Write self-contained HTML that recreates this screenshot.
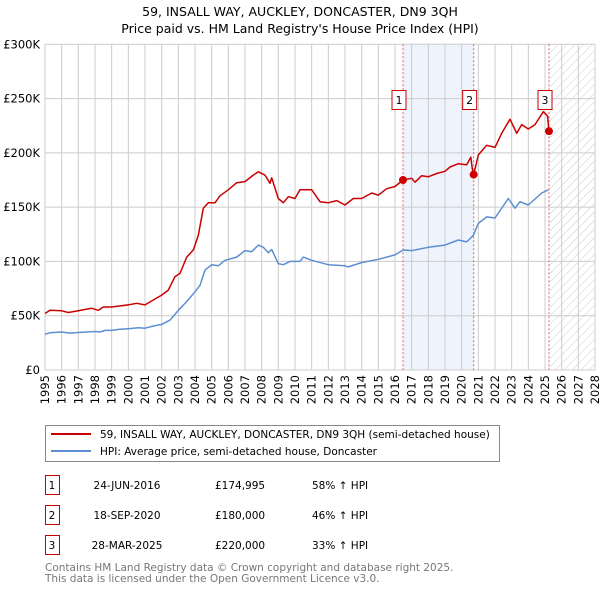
<!DOCTYPE html>
<html><head><meta charset="utf-8"><style>
body{margin:0;background:#fff;font-family:"DejaVu Sans","Liberation Sans",sans-serif;}
svg text{font-family:"DejaVu Sans","Liberation Sans",sans-serif;}
</style></head><body>
<svg id="c" width="600" height="590" viewBox="0 0 600 590" xmlns="http://www.w3.org/2000/svg">
<defs><pattern id="hatch" width="6" height="6" patternUnits="userSpaceOnUse" patternTransform="rotate(45)"><line x1="0" y1="0" x2="0" y2="6" stroke="#ccc" stroke-width="1"/></pattern></defs>
<text x="300" y="16" text-anchor="middle" font-size="12.5">59, INSALL WAY, AUCKLEY, DONCASTER, DN9 3QH</text>
<text x="300" y="33" text-anchor="middle" font-size="12.5">Price paid vs. HM Land Registry's House Price Index (HPI)</text>
<g id="plot"></g>
<rect x="45.5" y="425.5" width="454" height="36" fill="#fff" stroke="#888"/>
<line x1="51" y1="434" x2="91" y2="434" stroke="#cc0000" stroke-width="2"/>
<text x="100" y="438" font-size="10.5">59, INSALL WAY, AUCKLEY, DONCASTER, DN9 3QH (semi-detached house)</text>
<line x1="51" y1="451" x2="91" y2="451" stroke="#5b8fd0" stroke-width="2"/>
<text x="100" y="455" font-size="10.5">HPI: Average price, semi-detached house, Doncaster</text>
<g id="table" font-size="10.5"></g>
<text x="45" y="571" font-size="10.5" fill="#777">Contains HM Land Registry data © Crown copyright and database right 2025.</text>
<text x="45" y="582" font-size="10.5" fill="#777">This data is licensed under the Open Government Licence v3.0.</text>
</svg>
<script>
const hpiYears=[1995,1995.3,1996,1996.5,1997,1998,1998.3,1998.6,1999,1999.5,2000,2000.6,2001,2001.5,2002,2002.5,2003,2003.5,2004,2004.3,2004.6,2005,2005.4,2005.8,2006.5,2007,2007.4,2007.8,2008.1,2008.4,2008.6,2009,2009.3,2009.7,2010.3,2010.5,2011,2012,2013,2013.2,2014,2015,2016,2016.5,2017,2018,2019,2019.8,2020.3,2020.7,2021,2021.5,2022,2022.8,2023.2,2023.5,2024,2024.8,2025.2];
const hpiValues=[33,34.3,35,34,34.5,35.5,35,36.5,36.5,37.5,38,39,38.5,40.5,42,46,55,63,72,78,92,97,96,101,104,110,109,115,113,108,111,98,97,100,100,104,101,97,96,95,99,102,106,110.5,110,113,115,119.7,118,124,135,141,140,158,149,155,152,163,166];
const priceYears=[1995,1995.3,1996,1996.4,1997,1997.8,1998.2,1998.5,1999,1999.4,2000,2000.5,2001,2001.5,2002,2002.4,2002.8,2003.1,2003.5,2003.9,2004.2,2004.5,2004.8,2005.2,2005.5,2006,2006.5,2007,2007.5,2007.8,2008.2,2008.5,2008.6,2009,2009.3,2009.6,2010,2010.3,2011,2011.5,2012,2012.5,2013,2013.5,2014,2014.6,2015,2015.5,2016,2016.48,2017,2017.2,2017.6,2018,2018.5,2019,2019.3,2019.8,2020.3,2020.55,2020.65,2020.72,2021,2021.5,2022,2022.4,2022.9,2023.3,2023.6,2024,2024.4,2024.9,2025.15,2025.24];
const priceValues=[52,55,54.5,53,54.6,56.8,55,58,58,58.9,60,61.4,60,64.5,69,73.6,86,89,104,110.5,124,149,154,154,160.5,166,172.5,173.5,179.5,182.6,179.5,172,177,158,154,159.6,158,166,166,155,154,156,152,158,158,163,161,167,169,175,176.6,173,179,178,181,183,187,190,189,196,184,180,198,207,205,218,231,218,226,222,226,238,234,220];
const saleYears=[2016.48,2020.72,2025.24];
const saleValues=[174.995,180,220];
const saleLabels=["1","2","3"];
const saleDates=["24-JUN-2016","18-SEP-2020","28-MAR-2025"];
const salePrices=["£174,995","£180,000","£220,000"];
const saleDiffs=["58% ↑ HPI","46% ↑ HPI","33% ↑ HPI"];
const yTicks=[0,50,100,150,200,250,300];
const yTickLabels=["£0","£50K","£100K","£150K","£200K","£250K","£300K"];
const xTicks=[];for(let y=1995;y<=2028;y++)xTicks.push(y);

const X0=45,X1=595,Y0=370,Y1=44.3;
const xs=v=>X0+(v-1995)/(2028-1995)*(X1-X0);
const ys=v=>Y0-v/300*(Y0-Y1);
const NS="http://www.w3.org/2000/svg";
const plot=document.getElementById('plot');
function mk(tag,attrs,parent){const e=document.createElementNS(NS,tag);for(const k in attrs)e.setAttribute(k,attrs[k]);(parent||plot).appendChild(e);return e;}

let r=mk('rect',{x:xs(saleYears[0]),y:Y1,width:xs(saleYears[1])-xs(saleYears[0]),height:Y0-Y1,fill:'#eef3fc'});


r=mk('rect',{x:xs(saleYears[2]),y:Y1,width:X1-xs(saleYears[2]),height:Y0-Y1,fill:'url(#hatch)'});



xTicks.forEach(t=>{
  const l=mk('line',{x1:xs(t),x2:xs(t),y1:Y1,y2:Y0,stroke:'#ccc','stroke-width':1});
  
  
  const tx=mk('text',{x:0,y:0,transform:`translate(${xs(t)+4},375) rotate(-90)`,'text-anchor':'end','font-size':'11.5'});
  
  
  tx.textContent=t;
});
yTicks.forEach((t,i)=>{
  const l=mk('line',{x1:X0,x2:X1,y1:ys(t),y2:ys(t),stroke:'#ccc','stroke-width':1});
  
  
  const tx=mk('text',{x:40,y:ys(t)+4,'text-anchor':'end','font-size':'11.5'});
  
  
  tx.textContent=yTickLabels[i];
});
saleYears.forEach(s=>{
  const l=mk('line',{x1:xs(s),x2:xs(s),y1:Y1,y2:Y0,stroke:'#e06060','stroke-width':1,'stroke-dasharray':'2,2'});
  
  
});
function path(xa,va,color,name){
  const d=xa.map((x,i)=>(i?'L':'M')+xs(x).toFixed(1)+','+ys(va[i]).toFixed(1)).join('');
  const p=mk('path',{d,fill:'none',stroke:color,'stroke-width':1.5,'stroke-linejoin':'round'});
  
  
}
path(hpiYears,hpiValues,'#5b8fd0','hpi-line');
path(priceYears,priceValues,'#cc0000','price-line');
saleYears.forEach((s,i)=>{
  const c=mk('circle',{cx:xs(s),cy:ys(saleValues[i]),r:4,fill:'#cc0000'});
  
  
  const b=mk('rect',{x:xs(s)-11,y:90.5,width:14,height:19,fill:'#fff',stroke:'#cc0000'});
  
  
  const t=mk('text',{x:xs(s)-4,y:104,'text-anchor':'middle','font-size':'11'});
  
  
  t.textContent=saleLabels[i];
});
const tb=document.getElementById('table');
saleLabels.forEach((lab,i)=>{
  const y=475+i*30;
  const b=mk('rect',{x:45.5,y:y+0.5,width:14,height:19,fill:'#fff',stroke:'#cc0000'},tb);
  
  
  const cells=[[52,lab,'middle'],[127,saleDates[i],'middle'],[215,salePrices[i],'start'],[312,saleDiffs[i],'start']];
  cells.forEach(c=>{
    const t=mk('text',{x:c[0],y:y+14,'text-anchor':c[2]},tb);
    
    
    t.textContent=c[1];
  });
});
</script>
</body></html>
